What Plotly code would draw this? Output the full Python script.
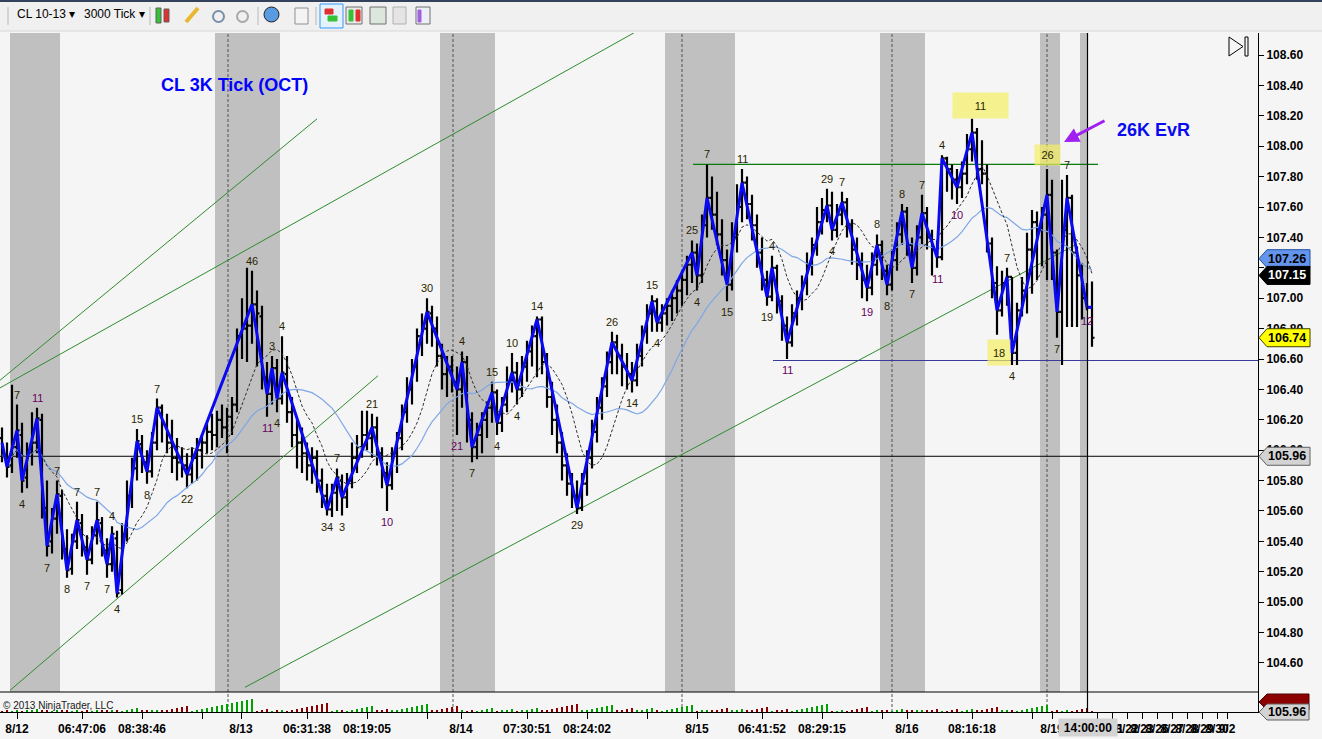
import plotly.graph_objects as go
import pandas as pd

# ---------------- data ----------------
opens = [106.08,105.97,105.90,106.02,106.10,105.82,105.98,106.05,106.20,105.62,
 105.40,105.55,105.70,105.35,105.22,105.40,105.52,105.36,105.28,105.44,
 105.52,105.34,105.25,105.42,105.08,105.45,105.70,105.88,106.04,105.92,
 105.86,106.05,106.28,106.16,106.05,105.95,105.92,105.90,105.84,105.95,
 106.00,106.05,106.12,106.10,106.20,106.15,106.22,106.30,106.75,106.80,
 106.82,106.96,106.88,106.48,106.37,106.54,106.34,106.50,106.25,106.10,
 106.05,105.98,105.90,105.95,105.80,105.70,105.61,105.72,105.80,105.69,
 105.80,105.95,106.02,106.10,106.08,106.15,105.98,105.85,105.77,105.98,
 106.08,106.25,106.40,106.55,106.75,106.80,106.90,106.80,106.62,106.50,
 106.55,106.45,106.40,106.58,106.20,106.02,106.10,106.20,106.28,106.38,
 106.18,106.30,106.45,106.51,106.40,106.55,106.65,106.75,106.86,106.58,
 106.35,106.20,106.05,105.90,105.78,105.70,105.62,105.78,105.95,106.12,
 106.28,106.42,106.58,106.71,106.62,106.55,106.50,106.46,106.62,106.78,
 106.90,106.98,106.84,106.90,106.95,107.00,107.05,107.12,107.22,107.30,
 107.15,107.48,107.66,107.55,107.42,107.25,107.09,107.40,107.60,107.76,
 107.62,107.48,107.30,107.12,107.01,107.20,106.98,106.82,106.71,106.90,
 107.00,107.10,107.22,107.35,107.50,107.58,107.61,107.45,107.55,107.63,
 107.48,107.32,107.22,107.12,107.07,107.22,107.35,107.18,107.09,107.25,
 107.42,107.57,107.35,107.20,107.40,107.56,107.40,107.32,107.27,107.92,
 107.85,107.78,107.73,107.82,107.98,108.09,107.85,107.82,107.36,107.10,
 106.92,107.10,107.14,106.64,106.92,107.05,107.32,107.50,107.45,107.55,
 107.68,107.30,106.91,107.45,107.66,107.30,107.15,107.00,106.94]
highs = [106.15,106.05,106.43,106.30,106.18,106.05,106.25,106.28,106.24,105.80,
 105.62,105.80,105.74,105.48,105.45,105.66,105.58,105.44,105.50,105.66,
 105.56,105.42,105.50,105.47,105.52,105.80,105.95,106.14,106.10,106.00,
 106.12,106.34,106.30,106.24,106.20,106.08,106.02,105.98,106.02,106.08,
 106.10,106.18,106.24,106.26,106.30,106.28,106.35,106.80,107.00,107.20,
 107.18,107.05,106.95,106.58,106.62,106.60,106.75,106.62,106.35,106.20,
 106.15,106.05,106.02,106.00,105.88,105.78,105.78,105.88,105.84,105.85,
 106.05,106.10,106.26,106.26,106.24,106.22,106.02,105.92,106.02,106.12,
 106.30,106.48,106.60,106.80,106.90,107.00,106.95,106.88,106.70,106.62,
 106.62,106.55,106.65,106.62,106.25,106.18,106.25,106.32,106.45,106.40,
 106.35,106.55,106.64,106.58,106.62,106.72,106.82,106.88,106.88,106.64,
 106.45,106.30,106.12,105.98,105.85,105.80,105.85,106.00,106.20,106.35,
 106.48,106.65,106.78,106.76,106.70,106.64,106.58,106.70,106.82,106.96,
 107.02,107.00,106.96,107.00,107.05,107.12,107.18,107.28,107.38,107.36,
 107.55,107.88,107.80,107.70,107.52,107.32,107.50,107.75,107.85,107.80,
 107.68,107.55,107.40,107.18,107.28,107.22,107.02,106.88,106.96,107.05,
 107.15,107.30,107.40,107.60,107.66,107.72,107.70,107.62,107.70,107.66,
 107.52,107.40,107.30,107.22,107.30,107.42,107.38,107.22,107.32,107.50,
 107.62,107.60,107.40,107.48,107.68,107.60,107.45,107.38,107.94,107.93,
 107.88,107.85,107.90,108.08,108.18,108.12,108.04,107.88,107.40,107.21,
 107.18,107.20,107.14,106.97,107.14,107.43,107.58,107.57,107.60,107.85,
 107.78,107.32,107.78,107.81,107.68,107.34,107.23,107.10,107.11]
lows = [105.92,105.82,105.85,105.95,105.72,105.75,105.90,105.98,105.55,105.30,
 105.32,105.45,105.28,105.16,105.18,105.35,105.30,105.18,105.25,105.38,
 105.30,105.16,105.20,105.03,105.05,105.40,105.62,105.80,105.85,105.78,
 105.82,106.00,106.05,105.98,105.85,105.80,105.82,105.75,105.78,105.80,
 105.88,105.98,106.00,106.02,106.08,105.98,106.10,106.25,106.60,106.58,
 106.70,106.55,106.40,106.22,106.30,106.25,106.30,106.18,106.02,105.88,
 105.85,105.80,105.78,105.72,105.62,105.57,105.56,105.60,105.57,105.62,
 105.75,105.85,105.95,106.00,105.95,105.90,105.75,105.60,105.74,105.85,
 106.00,106.18,106.30,106.45,106.62,106.70,106.68,106.55,106.40,106.35,
 106.38,106.10,106.28,106.05,105.92,105.94,105.98,106.08,106.18,106.10,
 106.12,106.25,106.38,106.30,106.35,106.45,106.55,106.48,106.50,106.28,
 106.10,105.98,105.80,105.70,105.62,105.58,105.60,105.70,105.88,106.05,
 106.20,106.35,106.50,106.50,106.42,106.40,106.38,106.42,106.55,106.70,
 106.78,106.78,106.78,106.82,106.85,106.90,106.95,107.02,107.10,107.05,
 107.10,107.40,107.45,107.35,107.15,106.98,107.05,107.30,107.50,107.52,
 107.38,107.20,107.05,106.95,106.98,106.90,106.72,106.60,106.68,106.82,
 106.92,107.02,107.15,107.28,107.42,107.50,107.38,107.40,107.48,107.40,
 107.22,107.12,107.00,106.98,107.02,107.15,107.12,107.02,107.05,107.18,
 107.35,107.28,107.10,107.15,107.35,107.32,107.15,107.20,107.25,107.70,
 107.65,107.62,107.66,107.75,107.90,107.78,107.75,107.30,107.00,106.76,
 106.88,106.95,106.56,106.56,106.88,106.90,107.03,107.12,107.21,107.12,
 107.12,106.74,106.56,106.81,106.81,106.81,106.86,106.92,106.68]
closes = [105.97,105.89,106.02,106.13,105.80,105.98,106.05,106.21,105.62,105.37,
 105.55,105.71,105.35,105.21,105.40,105.54,105.36,105.28,105.44,105.54,
 105.34,105.25,105.45,105.06,105.45,105.70,105.88,106.06,105.92,105.86,
 106.05,106.28,106.18,106.05,105.95,105.92,105.90,105.84,105.95,106.00,
 106.05,106.12,106.10,106.20,106.15,106.22,106.30,106.75,106.80,106.82,
 106.96,106.90,106.48,106.37,106.54,106.34,106.51,106.25,106.10,106.05,
 105.98,105.90,105.95,105.80,105.70,105.61,105.72,105.82,105.69,105.80,
 105.95,106.02,106.10,106.08,106.15,105.98,105.85,105.77,105.98,106.08,
 106.25,106.40,106.55,106.75,106.80,106.91,106.80,106.62,106.50,106.55,
 106.45,106.40,106.58,106.20,106.02,106.10,106.20,106.28,106.38,106.18,
 106.30,106.45,106.51,106.40,106.55,106.65,106.75,106.86,106.58,106.35,
 106.20,106.05,105.90,105.78,105.70,105.62,105.78,105.95,106.12,106.28,
 106.42,106.58,106.71,106.62,106.55,106.50,106.46,106.62,106.78,106.90,
 106.98,106.84,106.90,106.95,107.00,107.05,107.12,107.22,107.30,107.15,
 107.48,107.66,107.55,107.42,107.25,107.09,107.40,107.60,107.76,107.62,
 107.48,107.30,107.12,107.01,107.20,106.98,106.82,106.71,106.90,107.00,
 107.10,107.22,107.35,107.50,107.58,107.61,107.45,107.55,107.63,107.48,
 107.32,107.22,107.12,107.07,107.22,107.35,107.18,107.09,107.25,107.42,
 107.57,107.35,107.20,107.40,107.56,107.40,107.32,107.27,107.92,107.85,
 107.78,107.73,107.82,107.98,108.09,107.85,107.82,107.36,107.10,106.92,
 107.10,107.14,106.64,106.92,107.05,107.32,107.50,107.45,107.55,107.68,
 107.30,106.91,107.45,107.66,107.30,107.15,107.00,106.94,106.74]

# per-bar volume (thousands of contracts)
vol_k = [3.4,3.6,3.3,3.8,3.5,3.7,3.2,3.6,3.9,3.5, 3.4,3.7,3.6,3.3,3.5,3.8,3.4,3.6,3.5,3.3,
 3.7,3.4,3.6,3.8,3.5,3.3,3.6,3.4,3.7,3.5, 3.6,3.3,3.8,3.5,3.4,3.7,3.6,3.5,3.3,3.6,
 3.4,3.8,3.5,3.7,3.6,3.4,3.3,3.7,3.5,3.8, 3.6,3.4,3.5,3.7,3.3,3.6,3.8,3.5,3.4,3.6,
 3.7,3.5,3.3,3.6,3.8,3.4,3.5,3.7,3.6,3.4, 3.3,3.5,3.8,3.6,3.4,3.7,3.5,3.3,3.6,3.8,
 3.5,3.4,3.7,3.6,3.3,3.5,3.8,3.4,3.6,3.7, 3.5,3.3,3.6,3.4,3.8,3.5,3.7,3.6,3.4,3.3,
 3.6,3.8,3.5,3.4,3.7,3.5,3.6,3.3,3.8,3.4, 3.6,3.5,3.7,3.4,3.3,3.6,3.8,3.5,3.4,3.7,
 3.5,3.6,3.3,3.8,3.4,3.6,3.5,3.7,3.4,3.3, 3.6,3.8,3.5,3.4,3.7,3.6,3.5,3.3,3.8,3.4,
 3.6,3.5,3.7,3.4,3.3,3.6,3.8,3.5,3.4,3.7, 3.5,3.6,3.3,3.8,3.4,3.6,3.5,3.7,3.4,3.3,
 3.6,3.8,3.5,3.4,3.7,3.6,3.5,3.3,3.8,3.4, 3.6,3.5,3.7,3.4,3.3,3.6,3.8,3.5,3.4,3.7,
 3.5,3.6,3.3,3.8,3.4,3.6,3.5,3.7,3.4,3.3, 3.6,3.8,3.5,3.4,3.7,3.6,3.5,3.3,3.8,3.4,
 3.6,3.5,3.7,3.4,3.3,3.6,3.8,3.5,3.4,3.7, 3.5,3.6,3.3,3.8,3.4,3.6,3.5,3.7,3.4]

# zigzag swing vertices (bar index, price)
zz_idx = [0,1,3,4,7,9,11,13,15,17,19,21,22,23,27,29,31,37,50,53,54,55,56,65,67,68,74,77,85,
          91,92,94,98,99,102,103,107,115,122,126,130,131,138,139,141,145,148,153,154,157,
          165,166,168,173,175,177,180,182,184,187,188,191,194,199,201,202,209,211,213,217,218]
zz_val = [106.05,105.89,106.13,105.80,106.21,105.37,105.71,105.21,105.54,105.28,105.54,105.25,
          105.45,105.06,106.06,105.86,106.28,105.84,106.96,106.37,106.54,106.34,106.51,105.61,
          105.82,105.69,106.15,105.77,106.91,106.40,106.58,106.02,106.38,106.18,106.51,106.40,
          106.86,105.62,106.71,106.46,106.98,106.84,107.30,107.15,107.66,107.09,107.76,107.01,
          107.20,106.71,107.61,107.45,107.63,107.07,107.35,107.09,107.57,107.20,107.56,107.27,
          107.92,107.73,108.09,106.92,107.14,106.64,107.68,106.91,107.66,106.94,106.94]

# swing labels: bar index, H/L, text
lab_idx = [3,4,7,9,11,13,15,17,19,21,22,23,27,29,31,37,50,53,54,55,56,65,67,68,74,77,85,
           91,92,94,98,99,102,103,107,115,122,126,130,131,138,139,141,145,148,153,154,157,
           165,166,168,173,175,177,180,182,184,187,188,191,194,199,201,202,209,211,213,217]
lab_kind = "HLHLHLHLHLHLHLHLHLHLHLHLHLHLHLHLHLHLHLHLHLHLHLHLHLHLHLHLHLHLHLHLHLHL"
lab_text = ["7","4","11","7","7","8","7","7","7","7","4","4","15","8","7","22","46","11","3","4",
            "4","34","7","3","21","10","30","21","4","7","15","4","10","4","14","29","26","14",
            "15","4","25","4","7","15","11","19","4","11","29","4","7","19","8","8","8","7","7",
            "11","4","10","11","18","7","4","26","7","7","12"]
purple_labels = [7, 53, 77, 91, 157, 173, 187, 191, 217]
boxed_labels = {194: "rgba(245,240,100,0.7)", 199: "rgba(245,240,100,0.7)", 209: "rgba(245,240,100,0.7)"}

x_tick_vals = [3.0,16.0,28.0,40.0,47.8,61.0,73.0,85.0,91.8,105.0,117.0,129.0,139.0,152.0,164.0,
               176.0,181.0,194.0,206.0,210.0,219.0,222.0,225.0,228.0,231.0,234.0,237.0,240.0,243.0,245.0]
x_tick_text = ["8/12","06:47:06","08:38:46","","8/13","06:31:38","08:19:05","","8/14","07:30:51",
               "08:24:02","","8/15","06:41:52","08:29:15","","8/16","08:16:18","","8/19","8/20",
               "8/21","8/22","8/23","8/26","8/27","8/28","8/29","8/30","9/2"]
price_tick_text = ["104.60","104.80","105.00","105.20","105.40","105.60","105.80","106.00","106.20",
                   "106.40","106.60","106.80","107.00","107.20","107.40","107.60","107.80","108.00",
                   "108.20","108.40","108.60"]

session_bands = [(1.6,11.6),(42.6,55.6),(87.6,98.6),(132.6,146.6),(175.6,184.6),(207.6,211.6),(215.6,217.0)]
session_lines = [45.2, 90.2, 136.0, 178.0, 209.0]
cursor_idx = 217.1
trend_lines = [((-0.4,106.46),(63.0,108.18)), ((-0.4,106.41),(126.6,108.75)),
               ((1.6,104.42),(75.2,106.49)), ((48.6,104.44),(214.6,107.35))]
resist_level, resist_from, resist_to = 107.88, 138.2, 219.2
support_level, support_from = 106.59, 154.2
ref_level = 105.96
tag_slow, tag_fast, tag_last = 107.26, 107.15, 106.74

# ---------------- derived ----------------
n = len(closes)
idx = list(range(n))
cs = pd.Series(closes)
ma_fast = cs.rolling(9, min_periods=1).mean()
ma_slow = cs.rolling(20, min_periods=1).mean()

swing_vol = [0.0]*n
swing_up = [True]*n
for k in range(1, len(zz_idx)):
    start = 0 if k == 1 else zz_idx[k-1] + 1
    acc = 0.0
    up = zz_val[k] > zz_val[k-1]
    for i in range(start, zz_idx[k] + 1):
        acc += vol_k[i]
        swing_vol[i] = acc
        swing_up[i] = up
vol_colors = ["#00A000" if u else "#8B0000" for u in swing_up]

FONT = "Liberation Sans, Arial, sans-serif"
PLOT_W, PLOT_B, PLOT_H = 1258.0, 712.0, 679.0
def PX(x): return x / PLOT_W
def PY(y): return (PLOT_B - y) / PLOT_H
PRICE_BOTTOM = PY(692)

fig = go.Figure()

fig.add_trace(go.Scatter(x=idx, y=ma_slow, mode="lines", line=dict(color="#7FA6E6", width=1.2),
                         hoverinfo="skip", showlegend=False))
fig.add_trace(go.Scatter(x=idx, y=ma_fast, mode="lines", line=dict(color="#303030", width=1, dash="3px,2px"),
                         hoverinfo="skip", showlegend=False))
fig.add_trace(go.Ohlc(x=idx, open=opens, high=highs, low=lows, close=closes, tickwidth=0.5,
                      increasing=dict(line=dict(color="black", width=2.2)),
                      decreasing=dict(line=dict(color="black", width=2.2)),
                      hoverinfo="skip", showlegend=False))
fig.add_trace(go.Scatter(x=zz_idx, y=zz_val, mode="lines", line=dict(color="#0A0AF0", width=3),
                         hoverinfo="skip", showlegend=False))
fig.add_trace(go.Bar(x=idx, y=swing_vol, marker=dict(color=vol_colors, line=dict(width=0)), width=0.28,
                     yaxis="y2", hoverinfo="skip", showlegend=False))

shapes = []
for a, b in session_bands:
    shapes.append(dict(type="rect", xref="x", yref="y domain", x0=a, x1=b, y0=0, y1=1,
                       fillcolor="#C0C0C0", line=dict(width=0), layer="below"))
for s in session_lines:
    shapes.append(dict(type="line", xref="x", yref="paper", x0=s, x1=s, y0=0, y1=1,
                       line=dict(color="#505050", width=1, dash="3px,2px"), layer="below"))
for (x0, y0), (x1, y1) in trend_lines:
    shapes.append(dict(type="line", xref="x", yref="y", x0=x0, y0=y0, x1=x1, y1=y1,
                       line=dict(color="#2E8B2E", width=1), layer="below"))
shapes.append(dict(type="line", xref="x", yref="y", x0=resist_from, x1=resist_to, y0=resist_level, y1=resist_level,
                   line=dict(color="#0A7A0A", width=1.3), layer="below"))
shapes.append(dict(type="line", xref="x", yref="y", x0=support_from, x1=251.2, y0=support_level, y1=support_level,
                   line=dict(color="#3A3A9A", width=1.2), layer="below"))
shapes.append(dict(type="line", xref="paper", yref="y", x0=0, x1=1, y0=ref_level, y1=ref_level,
                   line=dict(color="black", width=1), layer="below"))
shapes.append(dict(type="line", xref="x", yref="paper", x0=cursor_idx, x1=cursor_idx, y0=0, y1=1,
                   line=dict(color="black", width=1.2)))
shapes.append(dict(type="line", xref="paper", yref="paper", x0=0, x1=1, y0=PRICE_BOTTOM, y1=PRICE_BOTTOM,
                   line=dict(color="black", width=1)))

# toolbar
shapes.append(dict(type="rect", xref="paper", yref="paper", x0=PX(-2), x1=PX(1324), y0=PY(31), y1=PY(-2),
                   fillcolor="#F0F0F0", line=dict(width=0)))
shapes.append(dict(type="rect", xref="paper", yref="paper", x0=PX(-2), x1=PX(1324), y0=PY(2), y1=PY(-2),
                   fillcolor="#33425A", line=dict(width=0)))
shapes.append(dict(type="line", xref="paper", yref="paper", x0=PX(0), x1=PX(1322), y0=PY(31), y1=PY(31),
                   line=dict(color="#D8D8D8", width=1)))
for sx in [8, 150, 258, 316]:
    shapes.append(dict(type="line", xref="paper", yref="paper", x0=PX(sx), x1=PX(sx), y0=PY(7), y1=PY(25),
                       line=dict(color="#B8B8B8", width=1)))
def box(x0, y0, x1, y1, fill, line="#606060", lw=1):
    shapes.append(dict(type="rect", xref="paper", yref="paper", x0=PX(x0), x1=PX(x1), y0=PY(y1), y1=PY(y0),
                       fillcolor=fill, line=dict(color=line, width=lw)))
box(156, 8, 161, 23, "#36C236"); box(164, 9, 169, 22, "#E03030")
shapes.append(dict(type="line", xref="paper", yref="paper", x0=PX(186), y0=PY(22), x1=PX(198), y1=PY(8),
                   line=dict(color="#E8B830", width=4)))
shapes.append(dict(type="circle", xref="paper", yref="paper", x0=PX(213), x1=PX(224), y0=PY(22), y1=PY(11),
                   line=dict(color="#7890A8", width=2)))
shapes.append(dict(type="circle", xref="paper", yref="paper", x0=PX(237), x1=PX(248), y0=PY(22), y1=PY(11),
                   line=dict(color="#A8A8A8", width=2)))
shapes.append(dict(type="circle", xref="paper", yref="paper", x0=PX(264), x1=PX(279), y0=PY(22), y1=PY(7),
                   fillcolor="#5A9AE0", line=dict(color="#202020", width=1)))
box(295, 8, 308, 24, "#F4F4F4", "#909090")
box(320, 4, 343, 28, "#E5F1FB", "#3399FF")
box(325, 9, 333, 14, "#E03030", "#E03030"); box(328, 16, 337, 21, "#36C236", "#36C236")
box(346, 7, 362, 24, "#E8E8E8", "#707070")
box(349, 10, 353, 21, "#36C236", "#36C236"); box(356, 10, 360, 21, "#E03030", "#E03030")
box(370, 7, 386, 24, "#DDE6DD", "#707070")
box(393, 7, 406, 24, "#E4E4E4", "#B0B0B0")
box(416, 7, 430, 24, "#EEEEF8", "#707070"); box(418, 10, 421, 22, "#A060E0", "#A060E0")

# play/end icon
shapes.append(dict(type="path", xref="paper", yref="paper",
                   path=f"M {PX(1229)},{PY(37)} L {PX(1229)},{PY(56)} L {PX(1243)},{PY(46.5)} Z",
                   line=dict(color="black", width=1)))
box(1245, 37, 1248, 56, "rgba(0,0,0,0)", "black")

# price tags on axis
def tag_path_y(price, fill, line_color):
    h = 9.0 / 152.0
    p = (f"M {PX(1259)},{price} L {PX(1267)},{price + h} L {PX(1310)},{price + h} "
         f"L {PX(1310)},{price - h} L {PX(1267)},{price - h} Z")
    shapes.append(dict(type="path", xref="paper", yref="y", path=p, fillcolor=fill,
                       line=dict(color=line_color, width=1)))
def tag_path_px(yc, fill, line_color):
    p = (f"M {PX(1259)},{PY(yc)} L {PX(1267)},{PY(yc - 8)} L {PX(1309)},{PY(yc - 8)} "
         f"L {PX(1309)},{PY(yc + 8)} L {PX(1267)},{PY(yc + 8)} Z")
    shapes.append(dict(type="path", xref="paper", yref="paper", path=p, fillcolor=fill,
                       line=dict(color=line_color, width=1)))
tag_path_y(tag_slow, "#6495ED", "#2050A0")
tag_path_y(tag_fast, "#000000", "#000000")
tag_path_y(tag_last, "#FFFF00", "#404000")
tag_path_y(ref_level, "#D3D3D3", "#606060")
tag_path_px(702, "#8B0000", "#500000")
tag_path_px(712, "#D3D3D3", "#606060")

annotations = []
for i, kind, txt in zip(lab_idx, lab_kind, lab_text):
    col = "#66005F" if i in purple_labels else "#2A1F00"
    a = dict(x=i, xref="x", yref="y", showarrow=False, text=txt, xanchor="center",
             font=dict(family=FONT, size=11, color=col))
    if kind == "H":
        a.update(y=highs[i], yanchor="bottom", yshift=2)
    else:
        a.update(y=lows[i], yanchor="top", yshift=-3)
    if i in boxed_labels:
        a.update(bgcolor=boxed_labels[i], borderpad=0)
        if i == 194:
            a.update(width=55, height=25, xshift=8, yshift=0)
        elif i == 209:
            a.update(width=25, height=20, yshift=3)
        else:
            a.update(width=22, height=25, xshift=2, yshift=-4)
    annotations.append(a)

def tag_text(y, txt, color, yref="y"):
    annotations.append(dict(x=PX(1287), xref="paper", y=y, yref=yref, text=txt, showarrow=False,
                            font=dict(family=FONT, size=12.5, color=color, weight="bold"),
                            xanchor="center", yanchor="middle"))
tag_text(tag_slow, f"{tag_slow:.2f}", "black")
tag_text(tag_fast, f"{tag_fast:.2f}", "white")
tag_text(tag_last, f"{tag_last:.2f}", "black")
tag_text(ref_level, f"{ref_level:.2f}", "black")
tag_text(PY(712), f"{ref_level:.2f}", "black", "paper")

annotations += [
    dict(x=PX(234), y=PY(85), xref="paper", yref="paper", text="CL 3K Tick (OCT)", showarrow=False,
         xanchor="center", yanchor="middle",
         font=dict(family=FONT, size=18, color="#0000FF", weight="bold")),
    dict(x=PX(1153), y=PY(130), xref="paper", yref="paper", text="26K EvR", showarrow=False,
         xanchor="center", yanchor="middle",
         font=dict(family=FONT, size=18, color="#0A0AF0", weight="bold")),
    dict(x=PX(1064), y=PY(142), xref="paper", yref="paper", ax=42, ay=-22, text="", showarrow=True,
         arrowhead=2, arrowsize=1, arrowwidth=3, arrowcolor="#A020F0"),
    dict(x=PX(1), y=PY(705), xref="paper", yref="paper", text="© 2013 NinjaTrader, LLC", showarrow=False,
         xanchor="left", yanchor="middle", font=dict(family=FONT, size=10, color="#202020")),
    dict(x=cursor_idx, xref="x", y=PY(727), yref="paper", text="14:00:00", showarrow=False,
         xanchor="center", yanchor="middle",
         bgcolor="#D3D3D3", width=58, height=17, borderpad=0,
         font=dict(family=FONT, size=12, color="black", weight="bold")),
    dict(x=PX(15), y=PY(14), xref="paper", yref="paper", text="CL 10-13 ▾", showarrow=False,
         xanchor="left", yanchor="middle", font=dict(family=FONT, size=12, color="black")),
    dict(x=PX(82), y=PY(14), xref="paper", yref="paper", text="3000 Tick ▾", showarrow=False,
         xanchor="left", yanchor="middle", font=dict(family=FONT, size=12, color="black")),
]

fig.update_layout(
    width=1322, height=739,
    margin=dict(l=0, r=64, t=33, b=27, pad=0),
    paper_bgcolor="#F5F5F5", plot_bgcolor="#F5F5F5",
    showlegend=False, bargap=0,
    shapes=shapes, annotations=annotations,
    xaxis=dict(domain=[0, 1], range=[-0.4, 251.2], anchor="y2", tickmode="array",
               tickvals=x_tick_vals, ticktext=x_tick_text, ticks="outside", ticklen=6, tickcolor="black",
               showline=True, linecolor="black", linewidth=1, showgrid=False, zeroline=False, tickangle=0,
               tickfont=dict(family=FONT, size=12, color="black", weight="bold"),
               rangeslider=dict(visible=False), fixedrange=True),
    yaxis=dict(domain=[PRICE_BOTTOM, 1], range=[104.409, 108.745], side="right", anchor="x",
               tickmode="array", tickvals=[float(t) for t in price_tick_text], ticktext=price_tick_text,
               ticks="outside", ticklen=5, tickcolor="black", showline=True, linecolor="black",
               showgrid=False, zeroline=False,
               tickfont=dict(family=FONT, size=12, color="black", weight="bold")),
    yaxis2=dict(domain=[0, PRICE_BOTTOM], range=[0, 70], side="right", anchor="x", showticklabels=False,
                ticks="", showline=True, linecolor="black", showgrid=False, zeroline=False),
)

fig.write_html("out.html", config={"displayModeBar": False},
               post_script="document.body.style.margin='0';document.body.style.overflow='hidden';")
